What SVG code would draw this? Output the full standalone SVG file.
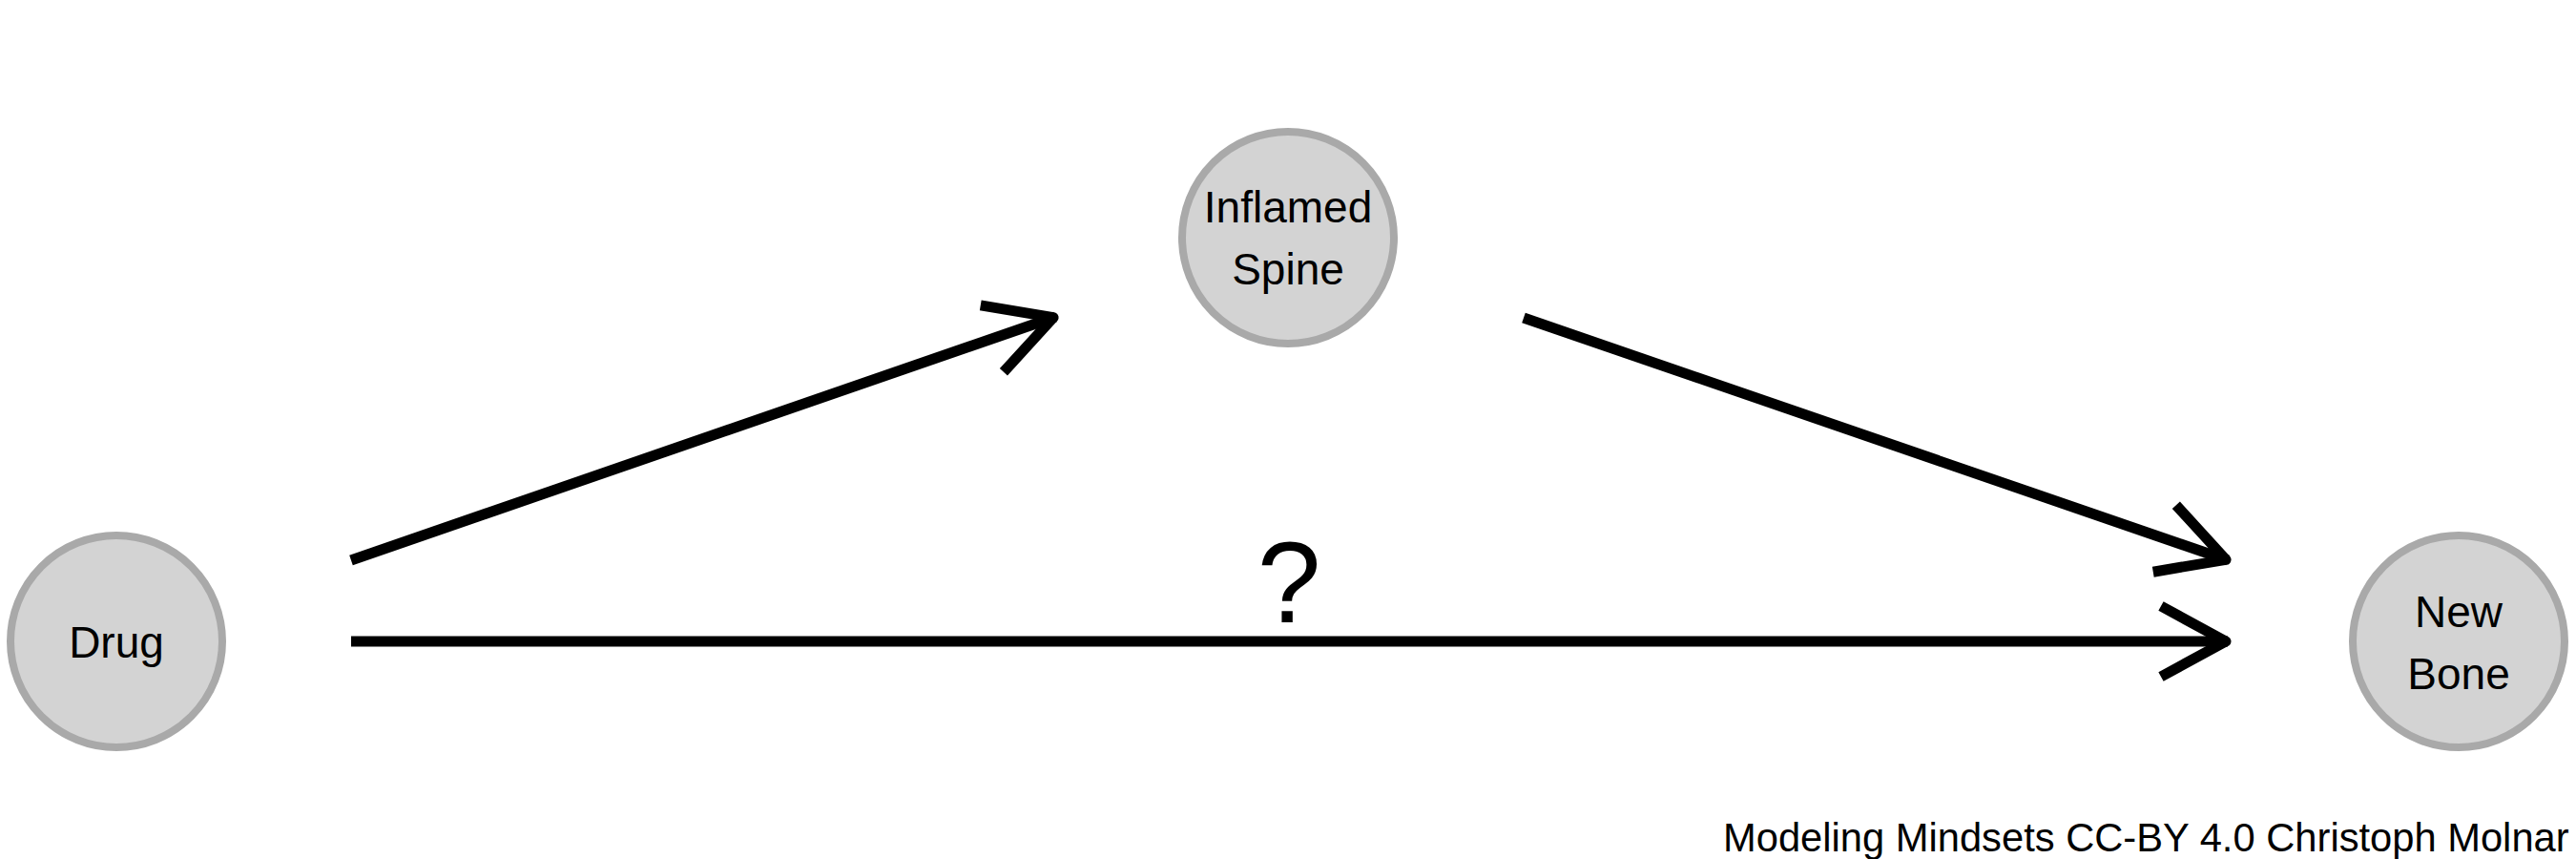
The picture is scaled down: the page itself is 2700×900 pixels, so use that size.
<svg xmlns="http://www.w3.org/2000/svg" width="2700" height="900" viewBox="0 0 2700 900">
<style>
.node circle{fill:#d3d3d3;stroke:#a9a9a9;stroke-width:8}
.node text{font-family:"Liberation Sans",Arial,sans-serif;font-size:46px;fill:#000;text-anchor:middle}
.edge{fill:none;stroke:#000;stroke-width:11}
.lbl{font-family:"Liberation Sans",Arial,sans-serif;fill:#000}
</style>
<defs>
<marker id="arr" markerUnits="userSpaceOnUse" viewBox="-90 -50 100 100" refX="0" refY="0" markerWidth="100" markerHeight="100" orient="auto" overflow="visible">
<path d="M-70,-37 L-2,0 L-70,37" fill="none" stroke="#000" stroke-width="11" stroke-linejoin="round"/>
</marker>
</defs>
<rect width="2700" height="900" fill="#fff"/>
<g id="connectors">
<line class="edge" x1="368" y1="587" x2="1106" y2="332" marker-end="url(#arr)"/>
<line class="edge" x1="1597" y1="333" x2="2335" y2="587" marker-end="url(#arr)"/>
<line class="edge" x1="368" y1="672" x2="2335" y2="672" marker-end="url(#arr)"/>
<text class="lbl" x="1351" y="652" font-size="120" text-anchor="middle">?</text>
</g>
<g id="node-drug" class="node">
<circle cx="122" cy="672" r="111"/>
<text x="122" y="689">Drug</text>
</g>
<g id="node-inflamed-spine" class="node">
<circle cx="1350" cy="249" r="111"/>
<text x="1350" y="233">Inflamed</text>
<text x="1350" y="298">Spine</text>
</g>
<g id="node-new-bone" class="node">
<circle cx="2577" cy="672" r="111"/>
<text x="2577" y="657">New</text>
<text x="2577" y="722">Bone</text>
</g>
<text class="lbl" x="1806" y="892" font-size="41.7">Modeling Mindsets CC-BY 4.0 Christoph Molnar</text>
</svg>
